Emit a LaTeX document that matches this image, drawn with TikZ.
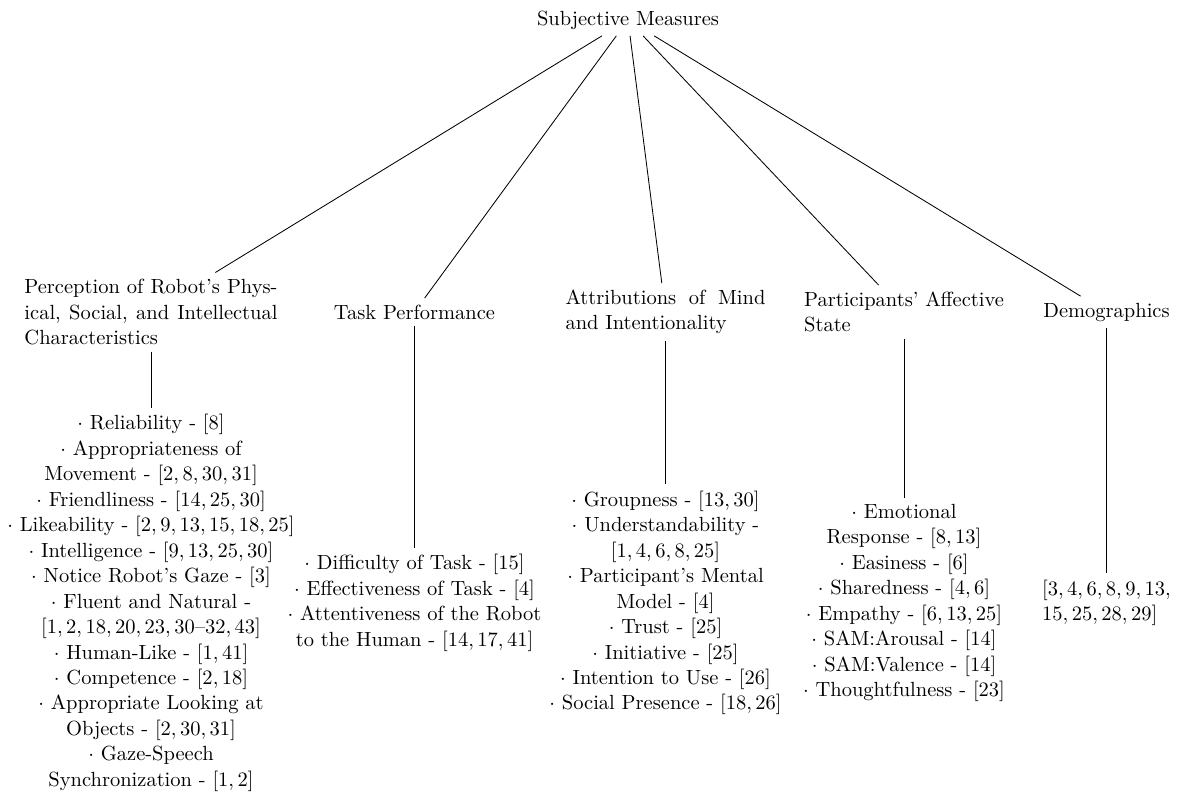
\documentclass[tikz,border=0pt]{standalone}
\begin{document}
\begin{tikzpicture}[x=0.5342pt,y=-0.5342pt,
  every node/.style={font=\fontsize{10.95}{13.6}\selectfont, inner sep=3.333pt},
  category/.style={align=justify},
  itemlist/.style={align=center},
  link/.style={draw, line width=0.45pt},
]
\useasboundingbox (0,0) rectangle (1179,795);

% root
\node[anchor=base] (root) at (628,25) {Subjective Measures};

% categories
\node[category, text width=135.2pt] (perc) at (151,312)
  {Perception of Robot's Phys-\linebreak ical, Social, and Intellectual\linebreak Characteristics};
\node (task) at (414.5,312) {Task Performance};
\node[category, text width=106.8pt] (mind) at (665.5,312)
  {Attributions of Mind\linebreak and Intentionality};
\node[align=left] (aff) at (904,312) {Participants' Affective\\State};
\node (demo) at (1106.5,312) {Demographics};

% measure lists
\node[itemlist] (perclist) at (151,603) {%
  $\cdot$ Reliability - $[8]$\\
  $\cdot$ Appropriateness of\\
  Movement - $[2,8,30,31]$\\
  $\cdot$ Friendliness - $[14,25,30]$\\
  $\cdot$ Likeability - $[2,9,13,15,18,25]$\\
  $\cdot$ Intelligence - $[9,13,25,30]$\\
  $\cdot$ Notice Robot's Gaze - $[3]$\\
  $\cdot$ Fluent and Natural -\\
  $[1,2,18,20,23,30$--$32,43]$\\
  $\cdot$ Human-Like - $[1,41]$\\
  $\cdot$ Competence - $[2,18]$\\
  $\cdot$ Appropriate Looking at\\
  Objects - $[2,30,31]$\\
  $\cdot$ Gaze-Speech\\
  Synchronization - $[1,2]$};

\node[itemlist] (tasklist) at (414.5,603) {%
  $\cdot$ Difficulty of Task - $[15]$\\
  $\cdot$ Effectiveness of Task - $[4]$\\
  $\cdot$ Attentiveness of the Robot\\
  to the Human - $[14,17,41]$};

\node[itemlist] (mindlist) at (665.5,603) {%
  $\cdot$ Groupness - $[13,30]$\\
  $\cdot$ Understandability -\\
  $[1,4,6,8,25]$\\
  $\cdot$ Participant's Mental\\
  Model - $[4]$\\
  $\cdot$ Trust - $[25]$\\
  $\cdot$ Initiative - $[25]$\\
  $\cdot$ Intention to Use - $[26]$\\
  $\cdot$ Social Presence - $[18,26]$};

\node[itemlist] (afflist) at (904,603) {%
  $\cdot$ Emotional\\
  Response - $[8,13]$\\
  $\cdot$ Easiness - $[6]$\\
  $\cdot$ Sharedness - $[4,6]$\\
  $\cdot$ Empathy - $[6,13,25]$\\
  $\cdot$ SAM:Arousal - $[14]$\\
  $\cdot$ SAM:Valence - $[14]$\\
  $\cdot$ Thoughtfulness - $[23]$};

\node[align=left] (demolist) at (1106.5,603) {%
  $[3,4,6,8,9,13,$\\
  $15,25,28,29]$};

% connectors
\foreach \c in {perc,task,mind,aff,demo}
  \path[link] (root) -- (\c);
\path[link] (perc) -- (perclist);
\path[link] (task) -- (tasklist);
\path[link] (mind) -- (mindlist);
\path[link] (aff) -- (afflist);
\path[link] (demo) -- (demolist);
\end{tikzpicture}
\end{document}
